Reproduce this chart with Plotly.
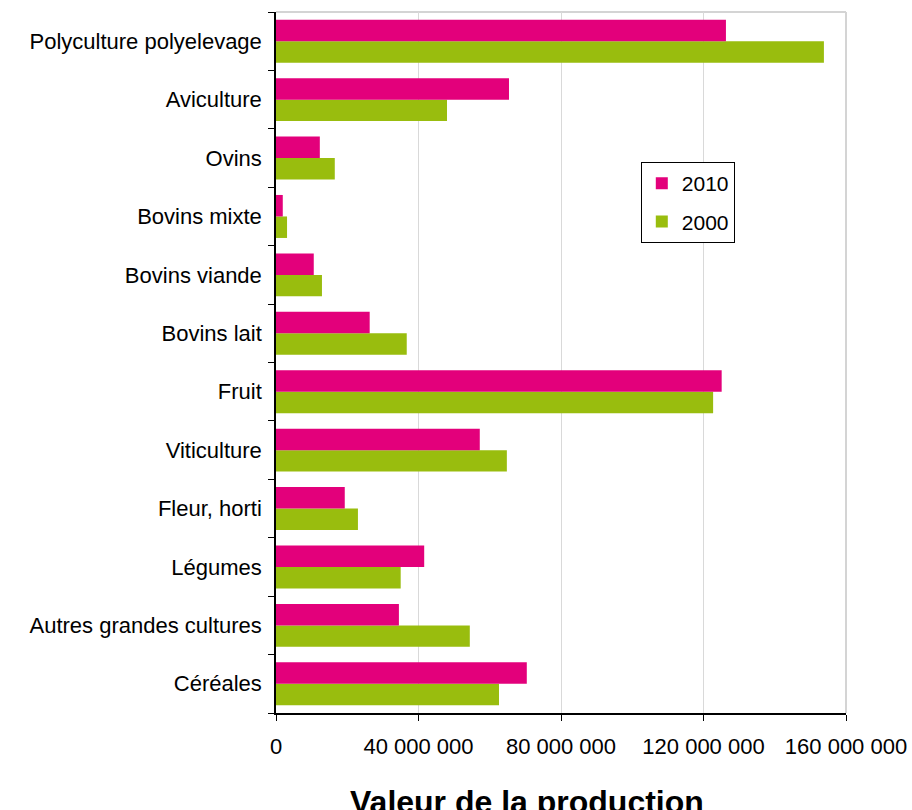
import plotly.graph_objects as go

categories = ["Céréales", "Autres grandes cultures", "Légumes", "Fleur, horti",
              "Viticulture", "Fruit", "Bovins lait", "Bovins viande",
              "Bovins mixte", "Ovins", "Aviculture", "Polyculture polyelevage"]
values_2010 = [70.4e6, 34.5e6, 41.6e6, 19.3e6, 57.2e6, 125.1e6, 26.3e6, 10.6e6,
               1.9e6, 12.3e6, 65.4e6, 126.3e6]
values_2000 = [62.6e6, 54.4e6, 35.0e6, 23.0e6, 64.8e6, 122.7e6, 36.7e6, 12.9e6,
               3.1e6, 16.5e6, 48.0e6, 153.8e6]
tick_values = [0, 40e6, 80e6, 120e6, 160e6]
tick_labels = ["0", "40 000 000", "80 000 000", "120 000 000", "160 000 000"]

FONT = "Liberation Sans, Arial, sans-serif"

fig = go.Figure()
fig.add_trace(go.Bar(y=categories, x=values_2000, name="2000", orientation="h",
                     marker=dict(color="#99BD0E", line=dict(width=0)),
                     legendrank=2, legendgroup="g2000"))
fig.add_trace(go.Bar(y=categories, x=values_2010, name="2010", orientation="h",
                     marker=dict(color="#E3007B", line=dict(width=0)),
                     legendrank=1, legendgroup="g2010"))

W, H = 912, 810
L, R, T, B = 276, 66, 12, 97

fig.update_layout(
    width=W, height=H, autosize=False,
    margin=dict(l=L, r=R, t=T, b=B, pad=0),
    paper_bgcolor="white", plot_bgcolor="white",
    barmode="group", bargap=0.264, bargroupgap=0,
    font=dict(family=FONT, size=22, color="black"),
    showlegend=True,
    legend=dict(x=0.64, y=0.786, xanchor="left", yanchor="top",
                bgcolor="white", bordercolor="black", borderwidth=1,
                traceorder="grouped", tracegroupgap=8,
                font=dict(family=FONT, size=21, color="black")),
    xaxis=dict(range=[0, 160e6], tickvals=tick_values, ticktext=tick_labels,
               automargin=False, ticklabeloverflow="allow",
               showgrid=True, gridcolor="#D9D9D9", gridwidth=1,
               showline=True, linecolor="black", linewidth=1.5,
               ticks="outside", ticklen=6, tickcolor="black", tickwidth=1,
               ticklabelstandoff=7, zeroline=False, fixedrange=True,
               tickfont=dict(family=FONT, size=22, color="black")),
    yaxis=dict(type="category", categoryorder="array", categoryarray=categories,
               automargin=False,
               tickson="boundaries", ticks="outside", ticklen=6, tickcolor="black",
               tickwidth=1, showline=True, linecolor="black", linewidth=1.5,
               showgrid=False, ticklabelstandoff=8, fixedrange=True,
               tickfont=dict(family=FONT, size=22, color="black")),
)

fig.add_shape(type="line", xref="x domain", yref="y domain", x0=0, x1=1, y0=1, y1=1,
              line=dict(color="#D4D4D4", width=2), layer="below")
fig.add_shape(type="line", xref="x domain", yref="y domain", x0=1, x1=1, y0=0, y1=1,
              line=dict(color="#D4D4D4", width=2), layer="below")

fig.add_annotation(text="<b>Valeur de la production</b>", xref="paper", yref="paper",
                   x=0.441, y=-0.127, xanchor="center", yanchor="middle",
                   showarrow=False, font=dict(family=FONT, size=32, color="black"))

fig.write_html("out.html",
               config={"responsive": False, "displayModeBar": False},
               post_script="document.documentElement.style.overflow='hidden';"
                           "document.body.style.margin='0';document.body.style.padding='0';"
                           "document.body.style.overflow='hidden';")
